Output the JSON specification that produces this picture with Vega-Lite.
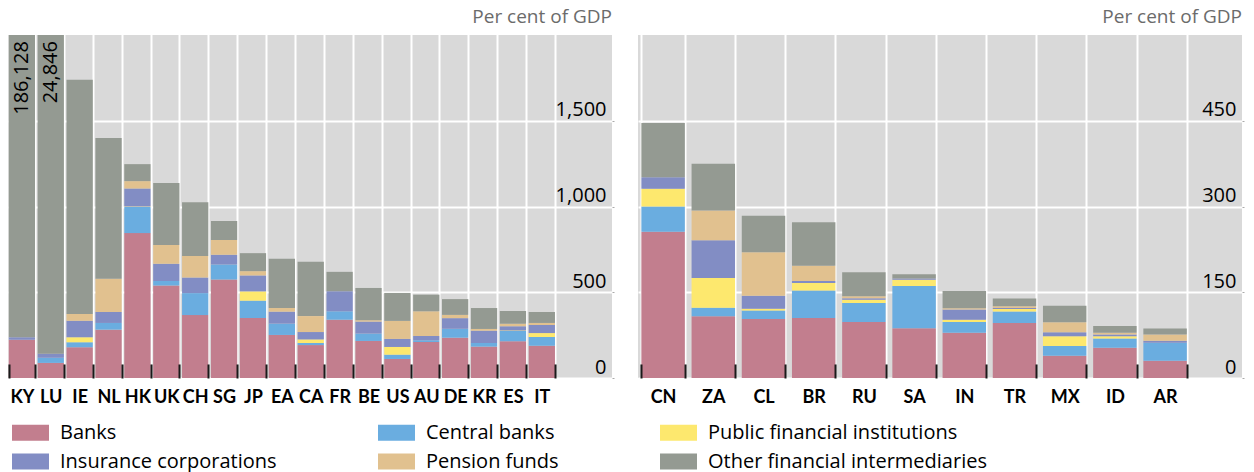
{
  "$schema": "https://vega.github.io/schema/vega-lite/v6.json",
  "padding": {"left": 8, "top": 8, "right": 0, "bottom": 0},
  "background": "white",
  "config": {
    "font": "Open Sans",
    "view": {"fill": "#d9d9d9", "stroke": null},
    "title": {"anchor": "end", "frame": "group", "fontSize": 19, "fontWeight": "normal", "color": "#6b6b6b", "offset": 8},
    "axisX": {
      "title": null, "orient": "bottom", "labelAngle": 0, "labelFont": "Lato", "labelFontSize": 18, "labelFontWeight": "bold", "labelColor": "#000000",
      "offset": -14, "labelPadding": 10, "tickBand": "extent", "gridColor": "#ffffff", "gridWidth": 2,
      "tickSize": 14, "tickColor": "#1a1a1a", "tickWidth": 2, "tickOpacity": 1, "domain": false
    },
    "axisY": {
      "title": null, "orient": "right", "labelFontSize": 20, "labelColor": "#000000", "labelAlign": "right",
      "labelBaseline": "alphabetic", "labelOffset": -5, "labelPadding": -8, "grid": true, "gridColor": "#ffffff",
      "gridWidth": 2, "tickSize": 2, "tickColor": "#aaaaaa", "domain": false, "format": ",.0f"
    },
    "legend": {
      "title": null, "orient": "bottom", "columns": 3, "gridAlign": "each", "columnPadding": 101, "rowPadding": -5,
      "padding": 4, "labelFontSize": 20, "labelColor": "#000000", "labelOffset": 11, "offset": 4, "labelLimit": 500,
      "symbolType": "M-1,-0.43H1V0.43H-1Z", "symbolSize": 1369, "symbolStrokeWidth": 0, "symbolOpacity": 1
    }
  },
  "datasets": {
    "sectorOrder": [
      {"sector": "Banks", "rank": 1},
      {"sector": "Central banks", "rank": 2},
      {"sector": "Public financial institutions", "rank": 3},
      {"sector": "Insurance corporations", "rank": 4},
      {"sector": "Pension funds", "rank": 5},
      {"sector": "Other financial intermediaries", "rank": 6}
    ],
    "main": [
      {"country": "KY", "panel": "A", "Banks": 223, "Central banks": 0, "Public financial institutions": 0, "Insurance corporations": 15, "Pension funds": 0, "Other financial intermediaries": 185890},
      {"country": "LU", "panel": "A", "Banks": 88, "Central banks": 30, "Public financial institutions": 0, "Insurance corporations": 24, "Pension funds": 0, "Other financial intermediaries": 24704},
      {"country": "IE", "panel": "A", "Banks": 179, "Central banks": 29, "Public financial institutions": 29, "Insurance corporations": 97, "Pension funds": 39, "Other financial intermediaries": 1366},
      {"country": "NL", "panel": "A", "Banks": 282, "Central banks": 39, "Public financial institutions": 0, "Insurance corporations": 64, "Pension funds": 194, "Other financial intermediaries": 820},
      {"country": "HK", "panel": "A", "Banks": 845, "Central banks": 152, "Public financial institutions": 3, "Insurance corporations": 105, "Pension funds": 43, "Other financial intermediaries": 99},
      {"country": "UK", "panel": "A", "Banks": 540, "Central banks": 25, "Public financial institutions": 0, "Insurance corporations": 101, "Pension funds": 109, "Other financial intermediaries": 362},
      {"country": "CH", "panel": "A", "Banks": 367, "Central banks": 128, "Public financial institutions": 0, "Insurance corporations": 91, "Pension funds": 126, "Other financial intermediaries": 313},
      {"country": "SG", "panel": "A", "Banks": 575, "Central banks": 87, "Public financial institutions": 0, "Insurance corporations": 56, "Pension funds": 86, "Other financial intermediaries": 111},
      {"country": "JP", "panel": "A", "Banks": 350, "Central banks": 101, "Public financial institutions": 54, "Insurance corporations": 93, "Pension funds": 25, "Other financial intermediaries": 105},
      {"country": "EA", "panel": "A", "Banks": 251, "Central banks": 66, "Public financial institutions": 0, "Insurance corporations": 70, "Pension funds": 21, "Other financial intermediaries": 288},
      {"country": "CA", "panel": "A", "Banks": 192, "Central banks": 12, "Public financial institutions": 21, "Insurance corporations": 43, "Pension funds": 93, "Other financial intermediaries": 317},
      {"country": "FR", "panel": "A", "Banks": 340, "Central banks": 49, "Public financial institutions": 0, "Insurance corporations": 117, "Pension funds": 0, "Other financial intermediaries": 113},
      {"country": "BE", "panel": "A", "Banks": 216, "Central banks": 43, "Public financial institutions": 0, "Insurance corporations": 70, "Pension funds": 8, "Other financial intermediaries": 188},
      {"country": "US", "panel": "A", "Banks": 111, "Central banks": 25, "Public financial institutions": 45, "Insurance corporations": 47, "Pension funds": 105, "Other financial intermediaries": 163},
      {"country": "AU", "panel": "A", "Banks": 210, "Central banks": 10, "Public financial institutions": 0, "Insurance corporations": 25, "Pension funds": 144, "Other financial intermediaries": 97},
      {"country": "DE", "panel": "A", "Banks": 235, "Central banks": 52, "Public financial institutions": 0, "Insurance corporations": 62, "Pension funds": 19, "Other financial intermediaries": 92},
      {"country": "KR", "panel": "A", "Banks": 183, "Central banks": 21, "Public financial institutions": 0, "Insurance corporations": 72, "Pension funds": 10, "Other financial intermediaries": 122},
      {"country": "ES", "panel": "A", "Banks": 214, "Central banks": 60, "Public financial institutions": 3, "Insurance corporations": 25, "Pension funds": 14, "Other financial intermediaries": 74},
      {"country": "IT", "panel": "A", "Banks": 188, "Central banks": 51, "Public financial institutions": 23, "Insurance corporations": 47, "Pension funds": 12, "Other financial intermediaries": 64},
      {"country": "CN", "panel": "E", "Banks": 256, "Central banks": 44, "Public financial institutions": 31, "Insurance corporations": 20, "Pension funds": 0, "Other financial intermediaries": 95},
      {"country": "ZA", "panel": "E", "Banks": 108, "Central banks": 15, "Public financial institutions": 52, "Insurance corporations": 66, "Pension funds": 52, "Other financial intermediaries": 82},
      {"country": "CL", "panel": "E", "Banks": 103, "Central banks": 15, "Public financial institutions": 3, "Insurance corporations": 23, "Pension funds": 76, "Other financial intermediaries": 64},
      {"country": "BR", "panel": "E", "Banks": 105, "Central banks": 48, "Public financial institutions": 13, "Insurance corporations": 3.5, "Pension funds": 27, "Other financial intermediaries": 76},
      {"country": "RU", "panel": "E", "Banks": 98, "Central banks": 33, "Public financial institutions": 6, "Insurance corporations": 2.5, "Pension funds": 3.5, "Other financial intermediaries": 42},
      {"country": "SA", "panel": "E", "Banks": 87, "Central banks": 74, "Public financial institutions": 11, "Insurance corporations": 2, "Pension funds": 0, "Other financial intermediaries": 7.5},
      {"country": "IN", "panel": "E", "Banks": 79, "Central banks": 19, "Public financial institutions": 4, "Insurance corporations": 18, "Pension funds": 2, "Other financial intermediaries": 30},
      {"country": "TR", "panel": "E", "Banks": 96, "Central banks": 20.5, "Public financial institutions": 4, "Insurance corporations": 2, "Pension funds": 3, "Other financial intermediaries": 13.5},
      {"country": "MX", "panel": "E", "Banks": 39, "Central banks": 17, "Public financial institutions": 17, "Insurance corporations": 7, "Pension funds": 17.5, "Other financial intermediaries": 29},
      {"country": "ID", "panel": "E", "Banks": 53, "Central banks": 16, "Public financial institutions": 4, "Insurance corporations": 3, "Pension funds": 3, "Other financial intermediaries": 12},
      {"country": "AR", "panel": "E", "Banks": 30, "Central banks": 31.5, "Public financial institutions": 0, "Insurance corporations": 3.5, "Pension funds": 11, "Other financial intermediaries": 10.5}
    ]
  },
  "spacing": 23,
  "resolve": {"scale": {"color": "shared", "x": "independent", "y": "independent"}},
  "hconcat": [
    {
      "width": 604,
      "height": 343,
      "title": {"text": "Per cent of GDP"},
      "resolve": {"axis": {"x": "independent"}},
      "layer": [
        {
          "data": {"name": "main"},
          "transform": [
            {"filter": "datum.panel == 'A'"},
            {"fold": ["Banks", "Central banks", "Public financial institutions", "Insurance corporations", "Pension funds", "Other financial intermediaries"], "as": ["sector", "value"]},
            {"lookup": "sector", "from": {"data": {"name": "sectorOrder"}, "key": "sector", "fields": ["rank"]}}
          ],
          "mark": {"type": "bar", "clip": true},
          "encoding": {
            "x": {"field": "country", "type": "nominal",
              "scale": {"domain": ["KY","LU","IE","NL","HK","UK","CH","SG","JP","EA","CA","FR","BE","US","AU","DE","KR","ES","IT"], "paddingInner": 0.09, "paddingOuter": 1.755, "align": 0.0128},
              "axis": {"orient": "bottom", "grid": true, "ticks": false, "labels": false, "zindex": 0}},
            "y": {"field": "value", "type": "quantitative", "stack": "zero",
              "scale": {"domain": [0, 2000], "nice": false},
              "axis": {"values": [0, 500, 1000, 1500]}},
            "color": {"field": "sector", "type": "nominal",
              "scale": {"domain": ["Banks", "Central banks", "Public financial institutions", "Insurance corporations", "Pension funds", "Other financial intermediaries"],
                        "range": ["#c27e8e", "#6aade0", "#fde86e", "#828dc4", "#e1c18f", "#949a92"]}},
            "order": {"field": "rank", "type": "quantitative", "sort": "ascending"}
          }
        },
        {
          "data": {"values": [{"country": "KY", "label": "186,128"}, {"country": "LU", "label": "24,846"}]},
          "mark": {"type": "text", "angle": 270, "align": "right", "baseline": "middle", "dx": -6, "fontSize": 20, "color": "#000000"},
          "encoding": {
            "x": {"field": "country", "type": "nominal",
              "axis": {"orient": "bottom", "grid": false, "ticks": true, "labels": true, "zindex": 1}},
            "y": {"datum": 2000},
            "text": {"field": "label"}
          }
        }
      ]
    },
    {
      "width": 604,
      "height": 343,
      "title": {"text": "Per cent of GDP"},
      "resolve": {"axis": {"x": "independent"}},
      "data": {"name": "main"},
      "transform": [
        {"filter": "datum.panel == 'E'"},
        {"fold": ["Banks", "Central banks", "Public financial institutions", "Insurance corporations", "Pension funds", "Other financial intermediaries"], "as": ["sector", "value"]},
        {"lookup": "sector", "from": {"data": {"name": "sectorOrder"}, "key": "sector", "fields": ["rank"]}}
      ],
      "layer": [
        {
          "mark": {"type": "bar"},
          "encoding": {
            "x": {"field": "country", "type": "nominal",
              "scale": {"domain": ["CN","ZA","CL","BR","RU","SA","IN","TR","MX","ID","AR"], "paddingInner": 0.134, "paddingOuter": 0.583, "align": 0.0575},
              "axis": {"orient": "bottom", "grid": true, "ticks": false, "labels": false, "zindex": 0}},
            "y": {"field": "value", "type": "quantitative", "stack": "zero",
              "scale": {"domain": [0, 600], "nice": false},
              "axis": {"values": [0, 150, 300, 450]}},
            "color": {"field": "sector", "type": "nominal",
              "scale": {"domain": ["Banks", "Central banks", "Public financial institutions", "Insurance corporations", "Pension funds", "Other financial intermediaries"],
                        "range": ["#c27e8e", "#6aade0", "#fde86e", "#828dc4", "#e1c18f", "#949a92"]}},
            "order": {"field": "rank", "type": "quantitative", "sort": "ascending"}
          }
        },
        {
          "mark": {"type": "text", "opacity": 0},
          "encoding": {
            "x": {"field": "country", "type": "nominal",
              "axis": {"orient": "bottom", "grid": false, "ticks": true, "labels": true, "zindex": 1}},
            "text": {"value": ""}
          }
        }
      ]
    }
  ]
}
